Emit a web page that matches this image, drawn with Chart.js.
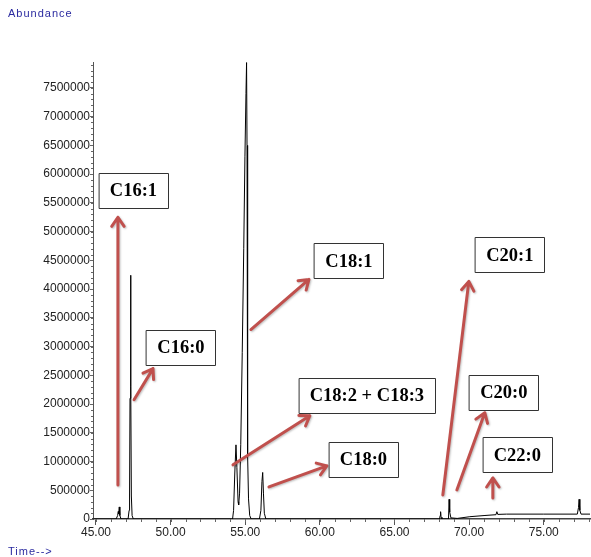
<!DOCTYPE html>
<html lang="en">
<head>
  <meta charset="UTF-8">
  <title>Chromatogram</title>
  <script src="https://cdn.jsdelivr.net/npm/chart.js"></script>
  <style>
    body { margin: 0; background: #fff; }
    canvas { position: absolute; left: 0; top: 0; }
  </style>
</head>
<body>
  <canvas id="grafica" width="591" height="557"></canvas>

  <script>
    // retention time (min) and abundance
    const times = [44.8, 46.35, 46.45, 46.49, 46.52, 46.56, 46.6, 46.68,
      47.15, 47.22, 47.25, 47.28, 47.32, 47.34, 47.37, 47.42, 47.5,
      54.15, 54.22, 54.3, 54.38, 54.44, 54.52, 54.56, 54.62, 54.7, 54.8, 54.9, 54.98,
      55.05, 55.09, 55.12, 55.16, 55.22, 55.3, 55.4,
      55.95, 56.05, 56.12, 56.17, 56.22, 56.28, 56.38,
      68.02, 68.06, 68.09, 68.12, 68.18, 68.62, 68.66, 68.7, 68.78, 69.2,
      70.05, 71.0, 71.8, 71.86, 71.92, 72.5, 75.0,
      77.25, 77.33, 77.37, 77.42, 77.5, 78.1];
    const abundance = [0, 0, 60000, 130000, 90000, 210000, 60000, 0,
      0, 150000, 400000, 2100000, 4240000, 2300000, 400000, 60000, 0,
      0, 150000, 800000, 1290000, 900000, 300000, 244000, 450000, 1300000, 2900000, 4700000, 6300000,
      7400000, 7940000, 6500000, 1100000, 350000, 60000, 0,
      0, 150000, 650000, 810000, 450000, 100000, 0,
      0, 60000, 127000, 30000, 0, 0, 343000, 120000, 20000, 10000,
      40000, 60000, 75000, 127000, 80000, 85000, 85000,
      85000, 200000, 343000, 150000, 85000, 85000];

    // axis ticks
    const xTicks = [45, 50, 55, 60, 65, 70, 75];
    const xTickLabels = ['45.00', '50.00', '55.00', '60.00', '65.00', '70.00', '75.00'];
    const yTicks = [0, 500000, 1000000, 1500000, 2000000, 2500000, 3000000, 3500000,
      4000000, 4500000, 5000000, 5500000, 6000000, 6500000, 7000000, 7500000];
    const xMinorStep = 1;
    const yMinorStep = 100000;

    // peak labels: box centre and arrow in data units
    const labels = ['C16:1', 'C16:0', 'C18:1', 'C18:2 + C18:3', 'C18:0', 'C20:1', 'C20:0', 'C22:0'];
    const boxX = [47.51, 50.69, 61.95, 63.15, 62.92, 72.73, 72.33, 73.23];
    const boxY = [5712000, 2982000, 4491000, 2145000, 1038000, 4595000, 2206000, 1116000];
    const arrowFrom = [[46.47, 593000], [47.55, 2075000], [55.38, 3296000], [54.18, 942000],
      [56.59, 558000], [68.24, 419000], [69.18, 506000], [71.59, 366000]];
    const arrowTo = [[46.47, 5249000], [48.82, 2616000], [59.27, 4168000], [59.33, 1796000],
      [60.47, 924000], [69.98, 4133000], [71.05, 1849000], [71.59, 715000]];

    const rojo = '#c0504d';
    const fuente = '"Liberation Sans", Arial, sans-serif';

    function flecha(ctx, x1, y1, x2, y2) {
      const ang = Math.atan2(y2 - y1, x2 - x1);
      const h = 11;
      ctx.beginPath();
      ctx.moveTo(x1, y1);
      ctx.lineTo(x2, y2);
      ctx.moveTo(x2 - h * Math.cos(ang - 0.6), y2 - h * Math.sin(ang - 0.6));
      ctx.lineTo(x2, y2);
      ctx.lineTo(x2 - h * Math.cos(ang + 0.6), y2 - h * Math.sin(ang + 0.6));
      ctx.stroke();
    }

    // minor tick marks between the labelled ones
    const marcasMenores = {
      id: 'marcasMenores',
      afterDraw(chart) {
        const ctx = chart.ctx;
        const sx = chart.scales.x, sy = chart.scales.y;
        ctx.save();
        ctx.strokeStyle = '#666';
        ctx.lineWidth = 1;
        ctx.beginPath();
        for (let v = Math.ceil(sx.min); v <= sx.max; v += xMinorStep) {
          const px = Math.round(sx.getPixelForValue(v)) + 0.5;
          ctx.moveTo(px, sx.top);
          ctx.lineTo(px, sx.top + 3);
        }
        for (let v = 0; v <= sy.max; v += yMinorStep) {
          const py = Math.round(sy.getPixelForValue(v)) + 0.5;
          ctx.moveTo(sy.right - 2, py);
          ctx.lineTo(sy.right, py);
        }
        ctx.stroke();
        ctx.restore();
      }
    };

    const anotaciones = {
      id: 'anotaciones',
      afterDatasetsDraw(chart) {
        const ctx = chart.ctx;
        const sx = chart.scales.x, sy = chart.scales.y;
        ctx.save();
        // arrows
        ctx.strokeStyle = rojo;
        ctx.lineWidth = 3;
        ctx.lineCap = 'round';
        ctx.lineJoin = 'round';
        ctx.shadowColor = 'rgba(0,0,0,0.25)';
        ctx.shadowBlur = 2;
        ctx.shadowOffsetX = 1;
        ctx.shadowOffsetY = 1;
        for (let i = 0; i < labels.length; i++) {
          flecha(ctx,
            sx.getPixelForValue(arrowFrom[i][0]), sy.getPixelForValue(arrowFrom[i][1]),
            sx.getPixelForValue(arrowTo[i][0]), sy.getPixelForValue(arrowTo[i][1]));
        }
        ctx.shadowColor = 'transparent';
        // boxes
        ctx.font = 'bold 18.5px "Liberation Serif", "Times New Roman", serif';
        ctx.textAlign = 'center';
        ctx.textBaseline = 'middle';
        for (let i = 0; i < labels.length; i++) {
          const cx = sx.getPixelForValue(boxX[i]);
          const cy = sy.getPixelForValue(boxY[i]);
          const w = Math.round(ctx.measureText(labels[i]).width + 22);
          const h = 35;
          const x0 = Math.round(cx - w / 2) + 0.5, y0 = Math.round(cy - h / 2) + 0.5;
          ctx.fillStyle = '#fff';
          ctx.fillRect(x0, y0, w, h);
          ctx.strokeStyle = '#333';
          ctx.lineWidth = 1;
          ctx.strokeRect(x0, y0, w, h);
          ctx.fillStyle = '#000';
          ctx.fillText(labels[i], cx, cy + 1);
        }
        // axis captions
        ctx.font = '11px ' + fuente;
        ctx.letterSpacing = '1px';
        ctx.fillStyle = '#2b2ba0';
        ctx.textAlign = 'left';
        ctx.textBaseline = 'alphabetic';
        ctx.fillText('Abundance', 8, 17);
        ctx.fillText('Time-->', 8, 555);
        ctx.restore();
      }
    };

    const ctx = document.getElementById('grafica').getContext('2d');
    new Chart(ctx, {
      type: 'line',
      data: {
        datasets: [{
          data: times.map((t, i) => ({ x: t, y: abundance[i] })),
          borderColor: '#000',
          borderWidth: 1,
          pointRadius: 0,
          tension: 0,
          fill: false
        }]
      },
      options: {
        responsive: false,
        animation: false,
        layout: { padding: { top: 62, right: 1, left: 0, bottom: 0 } },
        plugins: { legend: { display: false }, tooltip: { enabled: false } },
        scales: {
          x: {
            type: 'linear',
            min: 44.8,
            max: 78.1,
            afterFit: s => { s.height = 38; },
            afterBuildTicks: s => { s.ticks = xTicks.map(v => ({ value: v })); },
            border: { color: '#444', width: 1.5 },
            grid: { drawOnChartArea: false, tickLength: 6, color: '#555' },
            ticks: {
              autoSkip: false,
              maxRotation: 0,
              padding: 0,
              color: '#222',
              font: { family: fuente, size: 12 },
              callback: (v, i) => xTickLabels[i]
            }
          },
          y: {
            min: 0,
            max: 7950000,
            afterFit: s => { s.width = 93; },
            afterBuildTicks: s => { s.ticks = yTicks.map(v => ({ value: v })); },
            border: { color: '#555', width: 1 },
            grid: { drawOnChartArea: false, tickLength: 3, color: '#666' },
            ticks: {
              autoSkip: false,
              padding: 0,
              color: '#222',
              font: { family: fuente, size: 12 },
              callback: (v, i) => String(yTicks[i])
            }
          }
        }
      },
      plugins: [anotaciones, marcasMenores]
    });
  </script>
</body>
</html>
